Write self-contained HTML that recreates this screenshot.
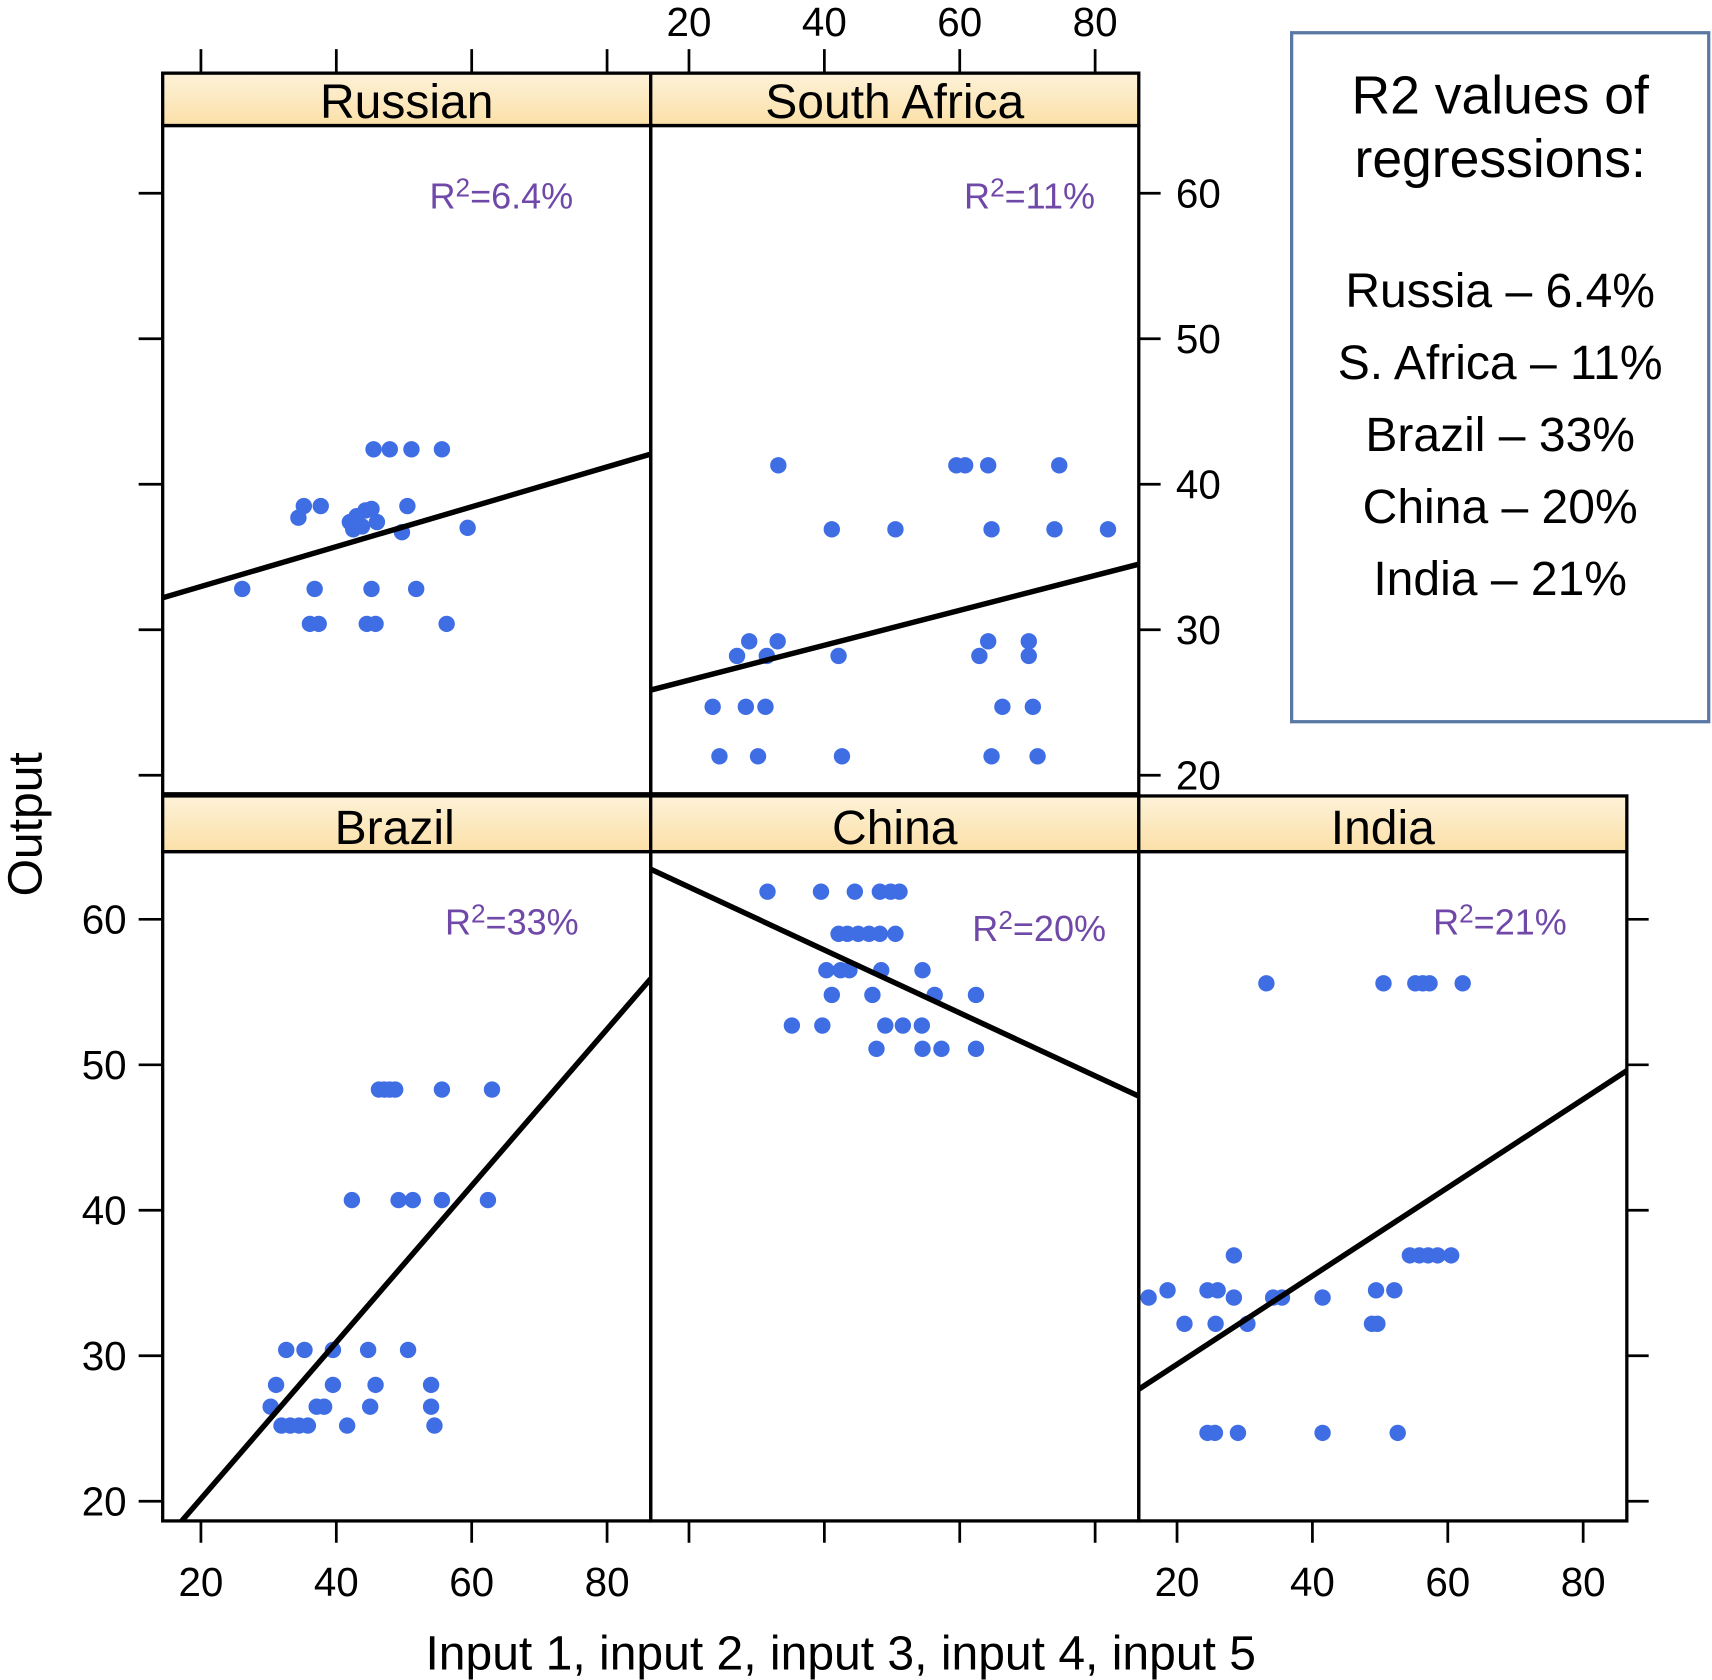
<!DOCTYPE html>
<html><head><meta charset="utf-8"><style>
html,body{margin:0;padding:0;background:#fff;}
svg{display:block;font-family:"Liberation Sans",Arial,sans-serif;}
</style></head><body>
<svg id="chart" width="1712" height="1680" viewBox="0 0 1568 1538.7" preserveAspectRatio="none" xmlns="http://www.w3.org/2000/svg">
<defs><linearGradient id="strip" x1="0" y1="0" x2="0" y2="1"><stop offset="0" stop-color="#fdf2d8"/><stop offset="1" stop-color="#fbe0a8"/></linearGradient></defs>
</svg>
<script>
const panelNames = ["Russian","South Africa","Brazil","China","India"];
const r2Labels = ["6.4%","11%","33%","20%","21%"];
const xTicks = [20,40,60,80];
const yTicks = [20,30,40,50,60];
const russiaX = [45.5,47.9,51.1,55.6,35.2,37.7,34.4,42,43,44.3,45.2,42.5,43.8,46,50.5,49.7,59.4,26.1,36.8,45.2,51.8,36.1,37.4,44.5,45.8,56.3];
const russiaY = [42.4,42.4,42.4,42.4,38.5,38.5,37.7,37.4,37.8,38.2,38.3,36.9,37.1,37.4,38.5,36.7,37.0,32.8,32.8,32.8,32.8,30.4,30.4,30.4,30.4,30.4];
const safricaX = [33.2,59.5,60.8,64.2,74.7,41.1,50.5,64.7,74.0,81.9,28.9,33.1,64.2,70.2,27.1,31.5,42.1,62.9,70.2,23.5,28.4,31.3,66.3,70.8,24.5,30.2,42.6,64.7,71.5];
const safricaY = [41.3,41.3,41.3,41.3,41.3,36.9,36.9,36.9,36.9,36.9,29.2,29.2,29.2,29.2,28.2,28.2,28.2,28.2,28.2,24.7,24.7,24.7,24.7,24.7,21.3,21.3,21.3,21.3,21.3];
const brazilX = [46.3,47.1,47.9,48.7,55.6,63.0,42.3,49.2,51.3,55.6,62.4,32.6,35.3,39.5,44.7,50.6,31.1,39.5,45.8,54.0,30.3,37.1,38.2,45.0,54.0,31.9,33.2,34.5,35.8,41.6,54.5];
const brazilY = [48.3,48.3,48.3,48.3,48.3,48.3,40.7,40.7,40.7,40.7,40.7,30.4,30.4,30.4,30.4,30.4,28.0,28.0,28.0,28.0,26.5,26.5,26.5,26.5,26.5,25.2,25.2,25.2,25.2,25.2,25.2];
const chinaX = [31.6,39.5,44.5,48.2,49.8,51.1,42.1,43.4,45.0,46.6,48.2,50.5,40.3,42.4,43.7,48.4,54.5,41.1,47.1,56.3,62.4,35.2,39.7,49.0,51.6,54.4,47.7,54.5,57.3,62.4];
const chinaY = [61.9,61.9,61.9,61.9,61.9,61.9,59.0,59.0,59.0,59.0,59.0,59.0,56.5,56.5,56.5,56.5,56.5,54.8,54.8,54.8,54.8,52.7,52.7,52.7,52.7,52.7,51.1,51.1,51.1,51.1];
const indiaX = [33.2,50.5,55.2,56.3,57.3,62.2,28.4,54.4,55.8,57.1,58.5,60.5,18.6,24.5,26.0,49.4,52.1,15.8,28.4,34.2,35.5,41.5,21.1,25.7,30.4,48.8,49.6,24.5,25.6,29.0,41.5,52.6];
const indiaY = [55.6,55.6,55.6,55.6,55.6,55.6,36.9,36.9,36.9,36.9,36.9,36.9,34.5,34.5,34.5,34.5,34.5,34.0,34.0,34.0,34.0,34.0,32.2,32.2,32.2,32.2,32.2,24.7,24.7,24.7,24.7,24.7];
const fitIntercepts = [30.23,24.13,9.41,66.55,23.34];
const fitSlopes = [0.137,0.12,0.538,-0.2164,0.3037];
const legendLines = ["Russia \u2013 6.4%","S. Africa \u2013 11%","Brazil \u2013 33%","China \u2013 20%","India \u2013 21%"];

const seriesX=[russiaX,safricaX,brazilX,chinaX,indiaX];
const seriesY=[russiaY,safricaY,brazilY,chinaY,indiaY];
const svg=document.getElementById('chart');
const NS='http://www.w3.org/2000/svg';
function mk(tag,attrs,parent){const e=document.createElementNS(NS,tag);for(const k in attrs)e.setAttribute(k,attrs[k]);(parent||svg).appendChild(e);return e;}
const colW=447, colX0=[149,596,1043];
const XMIN=14.35, XMAX=86.45;
const layout=[{c:0,top:67,strip:115,bot:727,rr:71,ry:0},{c:1,top:67,strip:115,bot:727,rr:40,ry:0},{c:0,top:729,strip:780,bot:1393,rr:66,ry:0},{c:1,top:729,strip:780,bot:1393,rr:30,ry:6},{c:2,top:729,strip:780,bot:1393,rr:55,ry:0}];
function sx(p,v){return colX0[layout[p].c]+(v-XMIN)/(XMAX-XMIN)*colW;}
function sy(p,v){const L=layout[p];const y60=L.strip+62;return y60+(60-v)*13.325;}

layout.forEach((L,p)=>{
  const x0=colX0[L.c];
  const g=mk('g',{});
  
  
  const st=mk('rect',{x:x0,y:L.top,width:colW,height:L.strip-L.top,fill:'url(#strip)',stroke:'#000','stroke-width':3},g);
  
  
  const t=mk('text',{x:x0+colW/2-(p==2?11:0),y:L.strip-7,'text-anchor':'middle','font-size':44,fill:'#000'},g);
  t.textContent=panelNames[p];
  
  
  const fr=mk('rect',{x:x0,y:L.strip,width:colW,height:L.bot-L.strip,fill:'none',stroke:'#000','stroke-width':3},g);
  
  
  const clip=mk('clipPath',{id:'cp'+p},g);
  mk('rect',{x:x0,y:L.strip,width:colW,height:L.bot-L.strip},clip);
  const dots=mk('g',{'clip-path':'url(#cp'+p+')'},g);
  seriesX[p].forEach((xv,i)=>{
    const c=mk('circle',{cx:sx(p,xv),cy:sy(p,seriesY[p][i]),r:7.5,fill:'#3f6de3'},dots);
    
    
  });
  const ln=mk('line',{x1:sx(p,XMIN),y1:sy(p,fitIntercepts[p]+fitSlopes[p]*XMIN),x2:sx(p,XMAX),y2:sy(p,fitIntercepts[p]+fitSlopes[p]*XMAX),stroke:'#000','stroke-width':5},dots);
  
  
  const rt=mk('text',{x:x0+colW-L.rr,y:L.strip+76+L.ry,'text-anchor':'end','font-size':33,fill:'#7048a8'},g);
  rt.innerHTML='R<tspan dy="-11" font-size="24">2</tspan><tspan dy="11">='+r2Labels[p]+'</tspan>';
  
  
});

function tick(x1,y1,x2,y2,name){const l=mk('line',{x1,y1,x2,y2,stroke:'#000','stroke-width':2.5});}
function label(x,y,txt,anchor,name){const t=mk('text',{x,y,'text-anchor':anchor,'font-size':37,fill:'#000'});t.textContent=txt;}
xTicks.forEach(v=>{
  tick(sx(0,v),45,sx(0,v),67,'top-x-tick');
  tick(sx(1,v),45,sx(1,v),67,'top-x-tick');
  label(sx(1,v),33,String(v),'middle','top-x-tick-label');
  [2,3,4].forEach(p=>tick(sx(p,v),1393,sx(p,v),1413,'bottom-x-tick'));
  label(sx(2,v),1462,String(v),'middle','bottom-x-tick-label');
  label(sx(4,v),1462,String(v),'middle','bottom-x-tick-label');
});
yTicks.forEach(v=>{
  tick(127,sy(0,v),149,sy(0,v),'left-y-tick');
  tick(1043,sy(1,v),1063,sy(1,v),'right-y-tick');
  label(1077,sy(1,v)+13,String(v),'start','right-y-tick-label');
  tick(127,sy(2,v),149,sy(2,v),'left-y-tick');
  label(116,sy(2,v)+13,String(v),'end','left-y-tick-label');
  tick(1490,sy(4,v),1510,sy(4,v),'right-y-tick');
});
const xt=mk('text',{x:770,y:1529,'text-anchor':'middle','font-size':44,fill:'#000'});
xt.textContent='Input 1, input 2, input 3, input 4, input 5';


const yt=mk('text',{x:0,y:0,'text-anchor':'middle','font-size':44,fill:'#000',transform:'translate(38,755) rotate(-90)'});
yt.textContent='Output';


const lg=mk('g',{});


mk('rect',{x:1183,y:30,width:382,height:631,fill:'#fff',stroke:'#5a78a4','stroke-width':3},lg);
['R2 values of','regressions:'].forEach((s,i)=>{const t=mk('text',{x:1374,y:104+i*58,'text-anchor':'middle','font-size':49,fill:'#000'},lg);t.textContent=s;});
legendLines.forEach((s,i)=>{const t=mk('text',{x:1374,y:281+i*66,'text-anchor':'middle','font-size':44,fill:'#000'},lg);t.textContent=s;});
</script>
</body></html>
